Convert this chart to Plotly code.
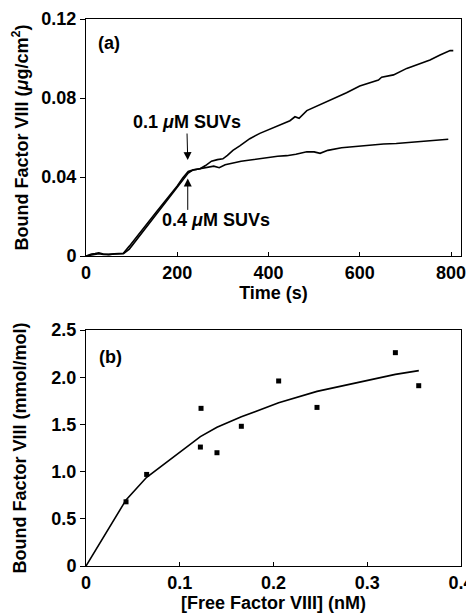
import plotly.graph_objects as go

# ---------------- Panel (a): binding kinetics ----------------
t_01 = [0, 12, 20, 28, 38, 50, 62, 75, 82, 95, 110, 125, 140, 155, 170, 185, 200, 212, 224,
        235, 250, 262, 275, 288, 300, 310, 322, 337, 359, 381, 403, 425, 447, 458, 467, 484,
        513, 542, 571, 600, 629, 641, 648, 674, 703, 732, 754, 776, 798, 805]
y_01 = [0, 0.0010, 0.0012, 0.0016, 0.0010, 0.0008, 0.0011, 0.0012, 0.0014, 0.0050, 0.0095,
        0.0138, 0.0182, 0.0225, 0.0268, 0.0310, 0.0355, 0.0395, 0.0428,
        0.0436, 0.0442, 0.0458, 0.0480, 0.0488, 0.0492, 0.0510, 0.0535, 0.0558, 0.0594,
        0.0621, 0.0641, 0.0663, 0.0685, 0.0705, 0.0697, 0.0736, 0.0765, 0.0798, 0.0827,
        0.0861, 0.0882, 0.0891, 0.0905, 0.0917, 0.0950, 0.0972, 0.0992, 0.1018, 0.1040, 0.1040]

t_04 = [0, 12, 20, 28, 38, 50, 62, 75, 82, 95, 110, 125, 140, 155, 170, 185, 200, 212, 224,
        235, 250, 265, 280, 292, 305, 320, 340, 360, 380, 400, 420, 440, 460, 484, 500, 513,
        530, 560, 590, 620, 652, 680, 703, 730, 754, 775, 794]
y_04 = [0, 0.0006, 0.0010, 0.0012, 0.0008, 0.0007, 0.0010, 0.0011, 0.0012, 0.0035, 0.0080,
        0.0125, 0.0170, 0.0215, 0.0258, 0.0300, 0.0345, 0.0385, 0.0420,
        0.0436, 0.0442, 0.0450, 0.0455, 0.0447, 0.0462, 0.0470, 0.0480, 0.0486, 0.0492,
        0.0500, 0.0505, 0.0508, 0.0515, 0.0528, 0.0527, 0.0520, 0.0535, 0.0548, 0.0555,
        0.0560, 0.0567, 0.0570, 0.0574, 0.0578, 0.0584, 0.0588, 0.0591]

xa_ticks = [0, 200, 400, 600, 800]
xa_labels = ["0", "200", "400", "600", "800"]
ya_ticks = [0, 0.04, 0.08, 0.12]
ya_labels = ["0", "0.04", "0.08", "0.12"]

# ---------------- Panel (b): binding isotherm ----------------
free_fviii = [0.0427, 0.0647, 0.1227, 0.122, 0.1397, 0.1657, 0.2055, 0.2464, 0.330, 0.3549]
bound_fviii = [0.68, 0.97, 1.67, 1.26, 1.20, 1.48, 1.96, 1.68, 2.26, 1.91]
fit_x = [0, 0.0427, 0.0647, 0.122, 0.1397, 0.1657, 0.2055, 0.2464, 0.330, 0.355]
fit_y = [0, 0.70, 0.94, 1.37, 1.47, 1.58, 1.73, 1.85, 2.03, 2.07]

xb_ticks = [0, 0.1, 0.2, 0.3, 0.4]
xb_labels = ["0", "0.1", "0.2", "0.3", "0.4"]
yb_ticks = [0, 0.5, 1.0, 1.5, 2.0, 2.5]
yb_labels = ["0", "0.5", "1.0", "1.5", "2.0", "2.5"]

FONT = "Liberation Sans, Arial, Helvetica, sans-serif"
TF = dict(family=FONT, size=18, color="black", weight="bold")

# The page body has an 8 px margin, so the figure is drawn 8 px in from the top-left.
OFF = 8
W, H = 474 - OFF, 613 - OFF


def xdom(a, b):
    return [(a - OFF) / W, (b - OFF) / W]


def ydom(top, bottom):
    return [1 - (bottom - OFF) / H, 1 - (top - OFF) / H]


fig = go.Figure()
fig.add_trace(go.Scatter(x=t_01, y=y_01, mode="lines", line=dict(color="black", width=1.6),
                         xaxis="x", yaxis="y", showlegend=False))
fig.add_trace(go.Scatter(x=t_04, y=y_04, mode="lines", line=dict(color="black", width=1.6),
                         xaxis="x", yaxis="y", showlegend=False))
fig.add_trace(go.Scatter(x=fit_x, y=fit_y, mode="lines", line=dict(color="black", width=1.6),
                         xaxis="x2", yaxis="y2", showlegend=False))
fig.add_trace(go.Scatter(x=free_fviii, y=bound_fviii, mode="markers",
                         marker=dict(symbol="square", size=5, color="black"),
                         xaxis="x2", yaxis="y2", showlegend=False))

XDOM = xdom(86, 461)
common = dict(showline=True, mirror=True, linecolor="black", linewidth=1, showgrid=False,
              zeroline=False, tickfont=TF, tickcolor="black", fixedrange=True,
              automargin=False)

fig.update_layout(
    width=W, height=H,
    margin=dict(l=0, r=0, t=0, b=0),
    paper_bgcolor="white", plot_bgcolor="white",
    font=dict(family=FONT, color="black"),
    xaxis=dict(domain=XDOM, range=[0, 800 * 375 / 365], tickmode="array", tickvals=xa_ticks,
               ticktext=xa_labels, ticks="inside", ticklen=4, anchor="y",
               title=dict(text="<b>Time (s)</b>", font=dict(family=FONT, size=18), standoff=2),
               **common),
    yaxis=dict(domain=ydom(19, 256), range=[0, 0.12], tickmode="array",
               tickvals=ya_ticks, ticktext=ya_labels, ticks="outside", ticklen=5, anchor="x",
               title=dict(text="<b>Bound Factor VIII (<i>μ</i>g/cm<sup>2</sup>)</b>",
                          font=dict(family=FONT, size=18), standoff=8),
               **common),
    xaxis2=dict(domain=XDOM, range=[0, 0.4], tickmode="array", tickvals=xb_ticks,
                ticktext=xb_labels, ticks="inside", ticklen=4, anchor="y2",
                title=dict(text="<b>[Free Factor VIII] (nM)</b>", font=dict(family=FONT, size=18),
                           standoff=2),
                **common),
    yaxis2=dict(domain=ydom(330, 566), range=[0, 2.5], tickmode="array",
                tickvals=yb_ticks, ticktext=yb_labels, ticks="outside", ticklen=5, anchor="x2",
                title=dict(text="<b>Bound Factor VIII (mmol/mol)</b>",
                           font=dict(family=FONT, size=18), standoff=20),
                **common),
)

ann_font = dict(family=FONT, size=18, color="black")
annotations = [
    dict(x=50, y=0.1078, xref="x", yref="y", text="<b>(a)</b>", showarrow=False, font=ann_font),
    dict(x=0.0256, y=2.214, xref="x2", yref="y2", text="<b>(b)</b>", showarrow=False, font=ann_font),
    # label with arrow pointing down to the 0.1 uM curve
    dict(x=223, y=0.0486, xref="x", yref="y", text="<b>0.1 <i>μ</i>M SUVs</b>",
         showarrow=True, ax=-1, ay=-38, font=ann_font, borderpad=1,
         arrowhead=2, arrowsize=1.6, arrowwidth=1, arrowcolor="black"),
    # label with arrow pointing up to the 0.4 uM curve (text sits right of the arrow)
    dict(x=223, y=0.0393, xref="x", yref="y", text="<b>0.4 <i>μ</i>M SUVs</b>",
         showarrow=True, ax=0, ay=42, font=ann_font, borderpad=0, width=164, align="right",
         arrowhead=2, arrowsize=1.6, arrowwidth=1, arrowcolor="black"),
]
fig.update_layout(annotations=annotations)

fig.write_html("out.html")
